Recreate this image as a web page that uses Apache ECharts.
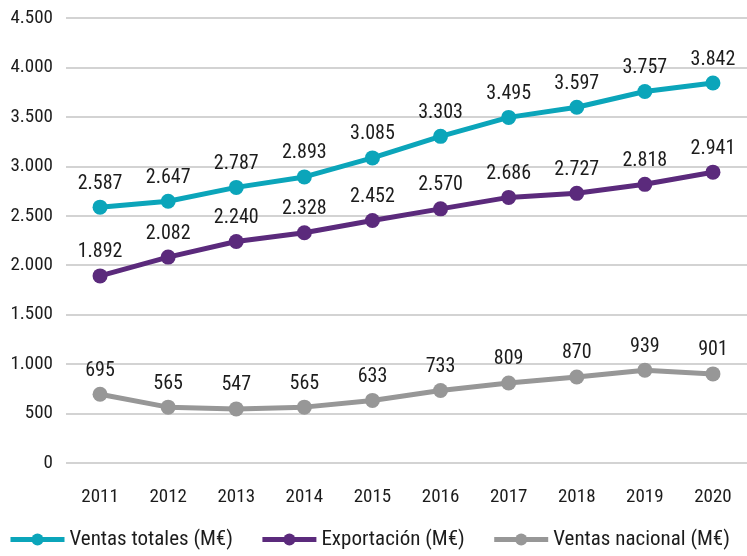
<!DOCTYPE html>
<html>
<head>
<meta charset="utf-8">
<script src="https://cdn.jsdelivr.net/npm/echarts@6/dist/echarts.min.js"></script>
<style>
  html, body { margin: 0; padding: 0; background: #fff; }
  #chart { width: 747px; height: 556px; }
</style>
</head>
<body>
<div id="chart"></div>
<script>
const years = ['2011', '2012', '2013', '2014', '2015', '2016', '2017', '2018', '2019', '2020'];
const ventasTotales = [2587, 2647, 2787, 2893, 3085, 3303, 3495, 3597, 3757, 3842];
const exportacion = [1892, 2082, 2240, 2328, 2452, 2570, 2686, 2727, 2818, 2941];
const ventasNacional = [695, 565, 547, 565, 633, 733, 809, 870, 939, 901];
const seriesNames = ['Ventas totales (M€)', 'Exportación (M€)', 'Ventas nacional (M€)'];

const FONT = '"Roboto Condensed", "DejaVu Sans Condensed", Roboto, sans-serif';
const TEXT = '#1c1c1c';

// thousands separator with a dot
function fmt(v) {
  return String(v).replace(/\B(?=(\d{3})+(?!\d))/g, '.');
}

function makeSeries(name, data, color) {
  return {
    name: name,
    type: 'line',
    data: data,
    symbol: 'circle',
    symbolSize: 15,
    lineStyle: { color: color, width: 5 },
    itemStyle: { color: color },
    label: {
      show: true,
      position: 'top',
      distance: 6,
      color: TEXT,
      fontSize: 20,
      fontFamily: FONT,
      formatter: p => fmt(p.value),
    },
    animation: false,
  };
}

const chart = echarts.init(document.getElementById('chart'));
chart.setOption({
  backgroundColor: '#fff',
  grid: { left: 66, right: -10, top: 18, bottom: 93 },
  legend: {
    bottom: 1,
    left: 3,
    itemWidth: 54,
    itemHeight: 15,
    itemGap: 27,
    lineStyle: { width: 5 },
    textStyle: { fontSize: 21, color: TEXT, fontFamily: FONT },
    data: seriesNames,
  },
  xAxis: {
    type: 'category',
    data: years,
    boundaryGap: true,
    axisLine: { show: false },
    axisTick: { show: false },
    axisLabel: { color: TEXT, fontSize: 19, fontFamily: FONT, margin: 25 },
  },
  yAxis: {
    type: 'value',
    min: 0,
    max: 4500,
    interval: 500,
    axisLine: { show: false },
    axisTick: { show: false },
    splitLine: { lineStyle: { color: '#c4c4c4', width: 1.5 } },
    axisLabel: {
      color: TEXT,
      fontSize: 19,
      fontFamily: FONT,
      margin: 13,
      formatter: v => fmt(v),
    },
  },
  series: [
    makeSeries(seriesNames[0], ventasTotales, '#0ba5ba'),
    makeSeries(seriesNames[1], exportacion, '#5b2a7c'),
    makeSeries(seriesNames[2], ventasNacional, '#979797'),
  ],
});
</script>
</body>
</html>
